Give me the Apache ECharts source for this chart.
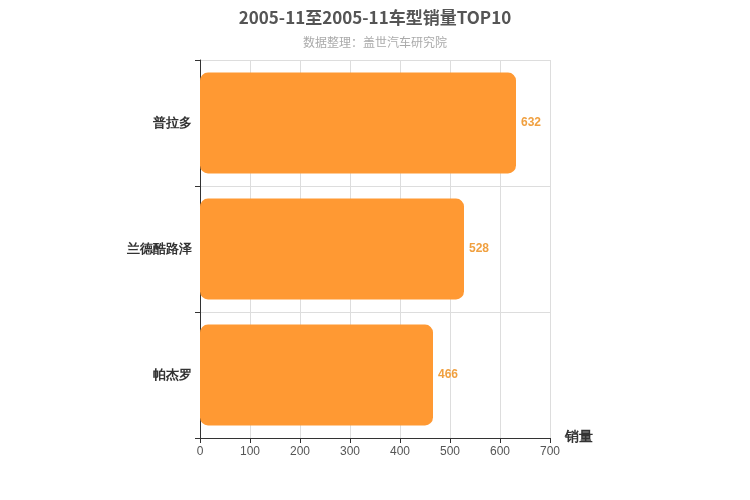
<!DOCTYPE html>
<html><head><meta charset="utf-8">
<script src="https://cdn.jsdelivr.net/npm/echarts@6/dist/echarts.min.js"></script>
<style>html,body{margin:0;padding:0}#c{width:750px;height:500px}</style>
</head><body><div id="c"></div>
<script>
const categories = ['帕杰罗', '兰德酷路泽', '普拉多'];
const sales = [466, 528, 632];
const xTicks = [0, 100, 200, 300, 400, 500, 600, 700];
const chart = echarts.init(document.getElementById('c'));
chart.setOption({
  title: {
    text: '2005-11至2005-11车型销量TOP10',
    subtext: '数据整理：盖世汽车研究院',
    left: 'center', top: 4, itemGap: 10,
    textStyle: {fontSize: 17, fontWeight: 'bold', color: '#555', fontFamily: 'Noto Sans CJK SC'},
    subtextStyle: {fontSize: 12, color: '#aaa', fontFamily: 'Noto Sans CJK SC'}
  },
  grid: {left: 200, right: 200, top: 60, bottom: 62},
  xAxis: {
    type: 'value', min: xTicks[0], max: xTicks[xTicks.length - 1], interval: 100,
    name: '销量', nameGap: 15,
    nameTextStyle: {fontSize: 14, fontWeight: 'bold', color: '#333', verticalAlign: 'top', padding: [-8, 0, 0, 0]},
    axisLine: {show: true, lineStyle: {color: '#333'}},
    axisTick: {show: true},
    axisLabel: {color: '#555', fontSize: 12},
    splitLine: {lineStyle: {color: '#ddd'}}
  },
  yAxis: {
    type: 'category', data: categories,
    axisLine: {lineStyle: {color: '#333'}},
    axisTick: {show: true},
    axisLabel: {fontSize: 13, fontWeight: 'bold', color: '#333', margin: 8},
    splitLine: {show: true, lineStyle: {color: '#ddd'}}
  },
  series: [{
    type: 'bar', data: sales, barWidth: '80%',
    itemStyle: {color: '#FF9933', borderRadius: 8},
    label: {show: true, position: 'right', color: '#f0a040', fontSize: 12, fontWeight: 'bold'}
  }]
});
</script></body></html>
